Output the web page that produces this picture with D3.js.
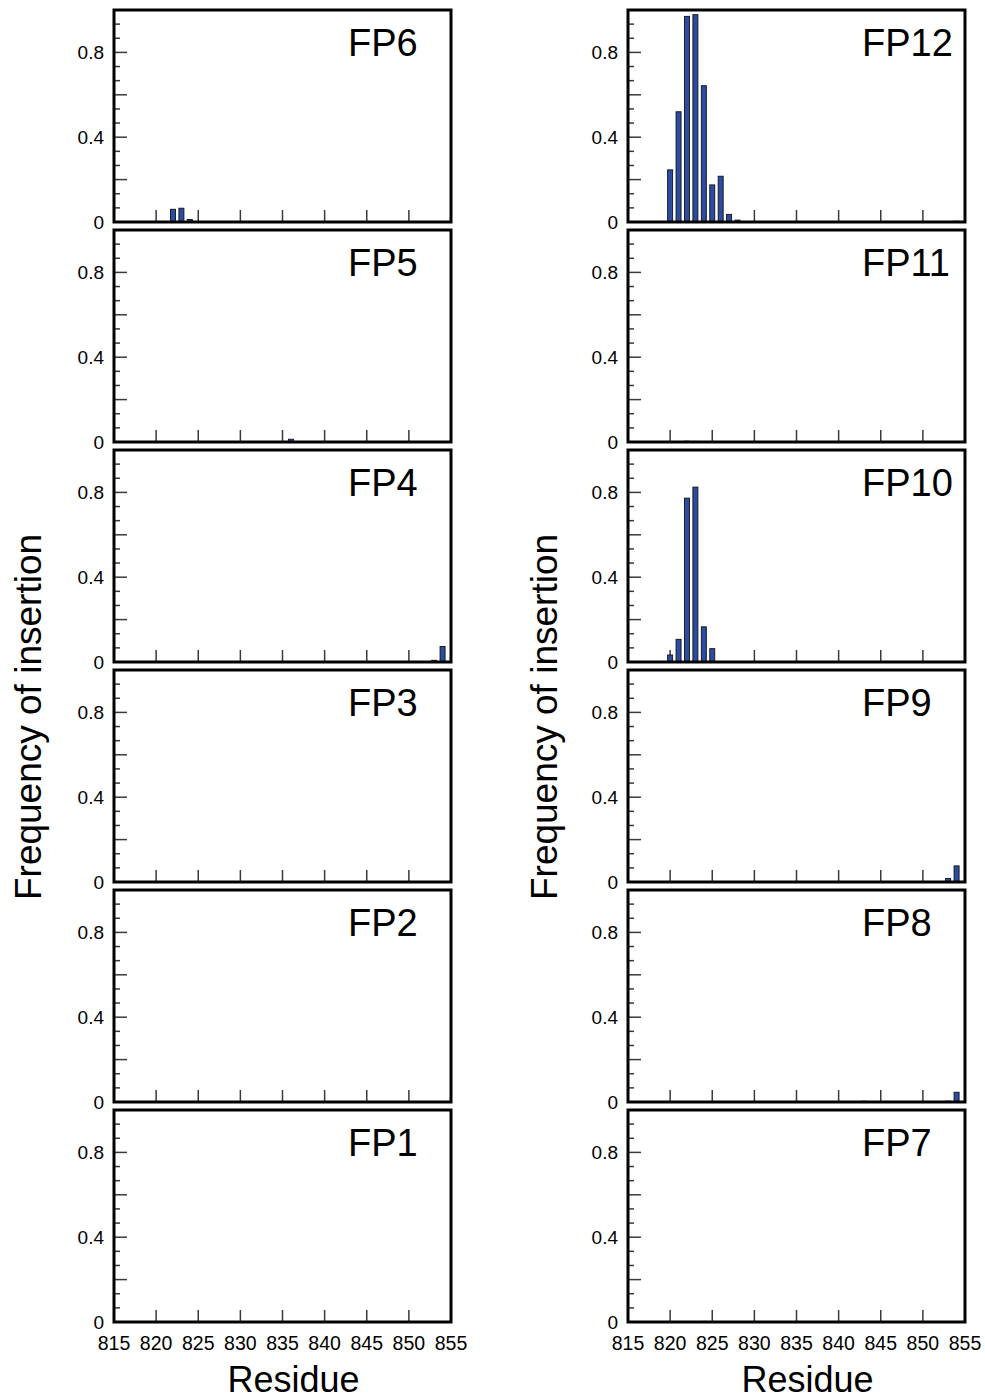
<!DOCTYPE html>
<html>
<head>
<meta charset="utf-8">
<script src="https://cdn.jsdelivr.net/npm/d3@7/dist/d3.min.js"></script>
<style>
  html, body { margin: 0; padding: 0; background: #fff; }
  svg { display: block; font-family: "Liberation Sans", Arial, sans-serif; }
</style>
</head>
<body>
<svg id="chart" width="985" height="1399"></svg>
<script>
// ---- data ----
const xTickLabels = [815, 820, 825, 830, 835, 840, 845, 850, 855];
const yTickLabels = [0, 0.4, 0.8];
const leftPanels = ["FP6", "FP5", "FP4", "FP3", "FP2", "FP1"];
const rightPanels = ["FP12", "FP11", "FP10", "FP9", "FP8", "FP7"];

const fp1Res = [], fp1Val = [];
const fp2Res = [], fp2Val = [];
const fp3Res = [], fp3Val = [];
const fp4Res = [853, 854], fp4Val = [0.008, 0.073];
const fp5Res = [836], fp5Val = [0.013];
const fp6Res = [822, 823, 824], fp6Val = [0.06, 0.065, 0.012];
const fp7Res = [824], fp7Val = [0.003];
const fp8Res = [843, 853, 854], fp8Val = [0.004, 0.004, 0.046];
const fp9Res = [853, 854], fp9Val = [0.017, 0.076];
const fp10Res = [820, 821, 822, 823, 824, 825], fp10Val = [0.033, 0.107, 0.773, 0.825, 0.166, 0.063];
const fp11Res = [822, 823], fp11Val = [0.004, 0.003];
const fp12Res = [820, 821, 822, 823, 824, 825, 826, 827, 828, 854],
      fp12Val = [0.246, 0.52, 0.97, 0.978, 0.643, 0.175, 0.216, 0.036, 0.009, 0.004];

const seriesByName = {
  FP1: [fp1Res, fp1Val], FP2: [fp2Res, fp2Val], FP3: [fp3Res, fp3Val],
  FP4: [fp4Res, fp4Val], FP5: [fp5Res, fp5Val], FP6: [fp6Res, fp6Val],
  FP7: [fp7Res, fp7Val], FP8: [fp8Res, fp8Val], FP9: [fp9Res, fp9Val],
  FP10: [fp10Res, fp10Val], FP11: [fp11Res, fp11Val], FP12: [fp12Res, fp12Val]
};

// ---- layout ----
const svg = d3.select("#chart");
const colX = [114, 628];
const panelW = 337;
const panelH = 212;
const panelTop0 = 10;
const panelPitch = 220;
const barColor = "#2c4ca3";
const tickColor = "#3a3a3a";

const majorY = [0, 0.2, 0.4, 0.6, 0.8];
const minorY = d3.range(1, 15).filter(k => k % 3 !== 0).map(k => k * 0.2 / 3);
const xMajor = d3.range(820, 851, 5);

function drawPanel(name, col, row, isBottom) {
  const x0 = colX[col];
  const top = panelTop0 + row * panelPitch;
  const x = d3.scaleLinear().domain([815, 855]).range([x0, x0 + panelW]);
  const y = d3.scaleLinear().domain([0, 1]).range([top + panelH, top]);
  const g = svg.append("g");

  g.selectAll(".ymaj").data(majorY).enter().append("line")
    .attr("x1", x0).attr("x2", x0 + 13)
    .attr("y1", d => y(d)).attr("y2", d => y(d))
    .attr("stroke", tickColor).attr("stroke-width", 1.5);
  g.selectAll(".ymin").data(minorY).enter().append("line")
    .attr("x1", x0).attr("x2", x0 + 6)
    .attr("y1", d => y(d)).attr("y2", d => y(d))
    .attr("stroke", tickColor).attr("stroke-width", 1.5);

  g.selectAll(".xmaj").data(xMajor).enter().append("line")
    .attr("x1", d => x(d)).attr("x2", d => x(d))
    .attr("y1", y(0)).attr("y2", y(0) - 12)
    .attr("stroke", tickColor).attr("stroke-width", 1.5);

  const [res, vals] = seriesByName[name];
  const data = res.map((r, i) => ({ r, v: vals[i] }));
  const bw = 5;
  g.selectAll(".bar").data(data).enter().append("rect")
    .attr("x", d => x(d.r) - bw / 2)
    .attr("y", d => y(d.v))
    .attr("width", bw)
    .attr("height", d => y(0) - y(d.v))
    .attr("fill", barColor)
    .attr("stroke", "#111")
    .attr("stroke-width", 0.9);

  g.append("rect")
    .attr("x", x0).attr("y", top)
    .attr("width", panelW).attr("height", panelH)
    .attr("fill", "none").attr("stroke", "#000").attr("stroke-width", 3);

  g.selectAll(".ylab").data(yTickLabels).enter().append("text")
    .attr("x", x0 - 10)
    .attr("y", d => y(d))
    .attr("dy", "0.36em")
    .attr("text-anchor", "end")
    .attr("font-size", 19)
    .text(d => d === 0 ? "0" : d3.format(".1f")(d));

  g.append("text")
    .attr("x", x0 + 234).attr("y", top + 46)
    .attr("font-size", 38)
    .text(name);

  if (isBottom) {
    g.selectAll(".xlab").data(xTickLabels).enter().append("text")
      .attr("x", d => x(d)).attr("y", y(0) + 28)
      .attr("text-anchor", "middle")
      .attr("font-size", 19.5)
      .text(d => d);
    g.append("text")
      .attr("x", x0 + panelW / 2 + 11).attr("y", 1392)
      .attr("text-anchor", "middle")
      .attr("font-size", 36)
      .text("Residue");
  }
}

leftPanels.forEach((n, i) => drawPanel(n, 0, i, i === leftPanels.length - 1));
rightPanels.forEach((n, i) => drawPanel(n, 1, i, i === rightPanels.length - 1));

[41, 557].forEach(bx => {
  svg.append("text")
    .attr("transform", `translate(${bx},717) rotate(-90)`)
    .attr("text-anchor", "middle")
    .attr("font-size", 37)
    .text("Frequency of insertion");
});
</script>
</body>
</html>
